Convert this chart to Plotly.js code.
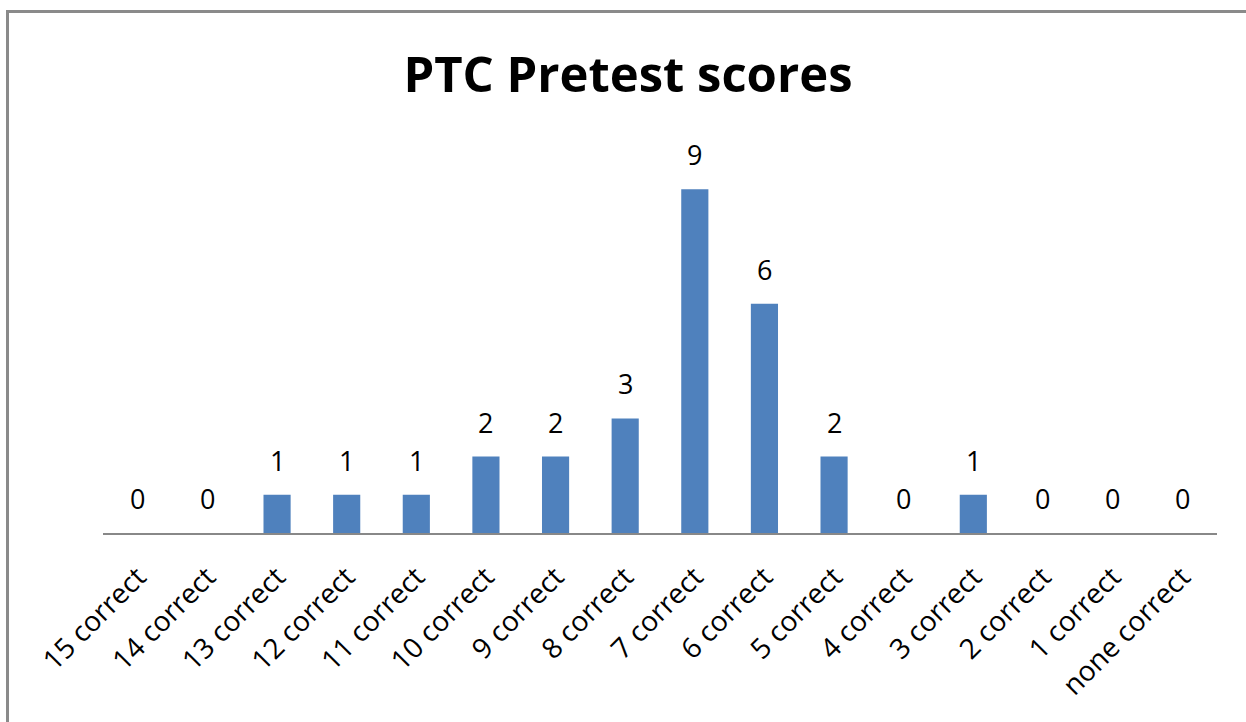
<!DOCTYPE html>
<html>
<head>
<meta charset="utf-8">
<script src="https://cdn.plot.ly/plotly-3.0.1.min.js"></script>
<style>
  html, body { margin: 0; padding: 0; background: #fff; }
  #chart { position: absolute; left: 0; top: 0; width: 1246px; height: 722px; }
  #frame { position: absolute; left: 6px; top: 10px; width: 1260px; height: 740px;
           border-top: 3px solid #8a8a8a; border-left: 3px solid #8a8a8a;
           pointer-events: none; box-sizing: border-box; }
</style>
</head>
<body>
<div id="chart"></div>
<div id="frame"></div>
<script>
const categories = ["15 correct", "14 correct", "13 correct", "12 correct", "11 correct",
  "10 correct", "9 correct", "8 correct", "7 correct", "6 correct", "5 correct",
  "4 correct", "3 correct", "2 correct", "1 correct", "none correct"];
const counts = [0, 0, 1, 1, 1, 2, 2, 3, 9, 6, 2, 0, 1, 0, 0, 0];
const chartTitle = "PTC Pretest scores";

const font = "Open Sans, Noto Sans, sans-serif";

const trace = {
  type: "bar",
  x: categories,
  y: counts,
  marker: { color: "#4F81BD" },
  hoverinfo: "skip"
};

const annotations = categories.map((c, i) => ({
  x: c, y: counts[i], xref: "x", yref: "y",
  text: String(counts[i]), showarrow: false,
  yanchor: "bottom", yshift: 14,
  font: { family: font, size: 27, color: "#000" }
}));

const layout = {
  width: 1246, height: 722,
  margin: { l: 103, r: 29, t: 151, b: 189, pad: 0 },
  paper_bgcolor: "#fff", plot_bgcolor: "#fff",
  bargap: 0.61,
  showlegend: false,
  title: {
    text: "<b>" + chartTitle + "</b>",
    font: { family: font, size: 49, color: "#000" },
    x: 0.504, xanchor: "center", y: 0.897, yanchor: "middle"
  },
  xaxis: {
    type: "category",
    tickangle: -45,
    tickfont: { family: font, size: 28, color: "#000" },
    ticklabelstandoff: 15,
    showline: true, linecolor: "#888888", linewidth: 1.5,
    ticks: "", showgrid: false, zeroline: false, fixedrange: true
  },
  yaxis: {
    range: [0, 10],
    visible: false, showgrid: false, zeroline: false, fixedrange: true
  },
  annotations: annotations
};

Plotly.newPlot("chart", [trace], layout, { staticPlot: true, displayModeBar: false });
</script>
</body>
</html>
